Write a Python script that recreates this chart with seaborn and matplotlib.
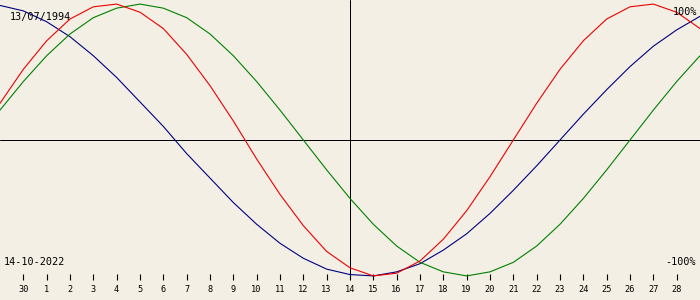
import matplotlib
matplotlib.use("Agg")
import matplotlib.pyplot as plt
import seaborn as sns
import pandas as pd

# Day labels for positions 1..29 (30 Sep .. 28 Oct)
tick_labels = ["30"] + [str(d) for d in range(1, 29)]
# Values per day, positions 0..30 (29 Sep .. 29 Oct), as fraction of 100%
physical = [0.27, 0.52, 0.73, 0.89, 0.98, 1.00, 0.94, 0.82, 0.63, 0.40, 0.14,
            -0.14, -0.40, -0.63, -0.82, -0.94, -1.00, -0.98, -0.89, -0.73, -0.52,
            -0.27, 0.00, 0.27, 0.52, 0.73, 0.89, 0.98, 1.00, 0.94, 0.82]
emotional = [0.22, 0.43, 0.62, 0.78, 0.90, 0.97, 1.00, 0.97, 0.90, 0.78, 0.62,
             0.43, 0.22, 0.00, -0.22, -0.43, -0.62, -0.78, -0.90, -0.97, -1.00,
             -0.97, -0.90, -0.78, -0.62, -0.43, -0.22, 0.00, 0.22, 0.43, 0.62]
intellectual = [0.99, 0.95, 0.87, 0.76, 0.62, 0.46, 0.28, 0.10, -0.10, -0.28, -0.46,
                -0.62, -0.76, -0.87, -0.95, -0.99, -1.00, -0.97, -0.91, -0.81, -0.69,
                -0.54, -0.37, -0.19, 0.00, 0.19, 0.37, 0.54, 0.69, 0.81, 0.91]
today_pos = 15
birth_text = "13/07/1994"
date_text = "14-10-2022"

bg = "#f3efe4"
sns.set_style("white")
plt.rcParams["font.family"] = ["DejaVu Sans Mono", "DejaVu Sans"]

n = len(physical)
df = pd.DataFrame({
    "pos": list(range(n)) * 3,
    "value": physical + emotional + intellectual,
    "series": ["physical"] * n + ["emotional"] * n + ["intellectual"] * n,
})

fig = plt.figure(figsize=(7, 3), dpi=100, facecolor=bg)
ax = fig.add_axes([0, 20 / 300, 1, 280 / 300])
ax.set_facecolor(bg)

ax.axhline(0, color="black", lw=0.72, zorder=1)
ax.axvline(today_pos, color="black", lw=0.72, zorder=1)

sns.lineplot(data=df, x="pos", y="value", hue="series",
             palette={"physical": "#ee0000", "emotional": "#008000", "intellectual": "#000080"},
             hue_order=["intellectual", "emotional", "physical"],
             lw=0.8, legend=False, ax=ax, zorder=3)

ax.set_xlim(0, 30)
ax.set_ylim(-1.03, 1.03)
for s in ax.spines.values():
    s.set_visible(False)
ax.set_xlabel("")
ax.set_ylabel("")
ax.set_yticks([])
ax.set_xticks(range(1, 30))
ax.set_xticklabels(tick_labels, fontsize=6.2)
ax.tick_params(axis="x", direction="in", length=4.3, width=0.8, pad=3.5,
               colors="black", bottom=True)

ax.text(10 / 700, 1 - 17 / 280, birth_text, transform=ax.transAxes,
        fontsize=7.3, va="center", ha="left", color="black")
ax.text(4 / 700, 1 - 262 / 280, date_text, transform=ax.transAxes,
        fontsize=7.3, va="center", ha="left", color="black")
ax.text(697 / 700, 1 - 12 / 280, "100%", transform=ax.transAxes,
        fontsize=7.3, va="center", ha="right", color="black")
ax.text(696 / 700, 1 - 262 / 280, "-100%", transform=ax.transAxes,
        fontsize=7.3, va="center", ha="right", color="black")

fig.savefig("out.png", dpi=100, facecolor=bg)
